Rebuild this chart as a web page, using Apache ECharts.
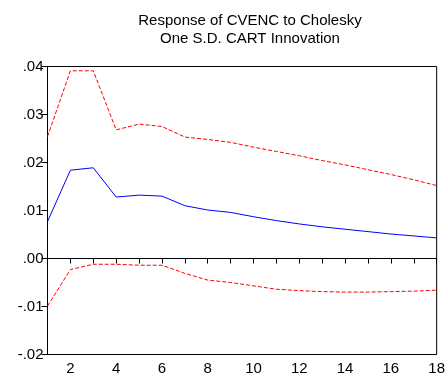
<!DOCTYPE html>
<html>
<head>
<meta charset="utf-8">
<script src="https://cdn.jsdelivr.net/npm/echarts@6/dist/echarts.min.js"></script>
<style>
html,body{margin:0;padding:0;background:#fff;}
#chart{width:448px;height:381px;}
</style>
</head>
<body>
<div id="chart"></div>
<script>
// Impulse response periods
var periods = [1,2,3,4,5,6,7,8,9,10,11,12,13,14,15,16,17,18];
// Point estimate of the response
var response = [0.0077,0.0184,0.0189,0.0128,0.0132,0.0130,0.0110,0.0101,0.0096,0.0087,0.0079,0.0072,0.0066,0.0061,0.0056,0.0051,0.0047,0.0043];
// +/- 2 S.E. bands
var upperBand = [0.0254,0.0391,0.0391,0.0268,0.0280,0.0275,0.0253,0.0248,0.0242,0.0232,0.0223,0.0214,0.0204,0.0195,0.0185,0.0175,0.0164,0.0152];
var lowerBand = [-0.0099,-0.0023,-0.0012,-0.0012,-0.0014,-0.0014,-0.0031,-0.0045,-0.0050,-0.0057,-0.0064,-0.0067,-0.0069,-0.0070,-0.0070,-0.0069,-0.0068,-0.0066];
var titleLines = ['Response of CVENC to Cholesky', 'One S.D. CART Innovation'];

function pairs(vals){ return periods.map(function(p,i){ return [p, vals[i]]; }); }
function fmtY(v){
  var s = (Math.round(v*100)/100).toFixed(2);
  return s.replace(/^(-?)0\./, '$1.');
}

var font = 'Liberation Sans, Arial, Helvetica, sans-serif';
var chart = echarts.init(document.getElementById('chart'), null, {renderer:'canvas'});
chart.setOption({
  animation:false,
  backgroundColor:'#fff',
  title:{
    text: titleLines.join('\n'),
    left: 245, textAlign:'center', top: 7,
    textStyle:{fontFamily:font, fontSize:15, fontWeight:'normal', color:'#000', lineHeight:18}
  },
  grid:{left:47.5, right:8.5, top:66.5, bottom:26.5, show:true, borderColor:'#000', borderWidth:1, backgroundColor:'transparent'},
  xAxis:{
    type:'value', min:1, max:18, interval:1,
    axisLine:{lineStyle:{color:'#000', width:1}},
    axisTick:{show:true, inside:false, length:5, lineStyle:{color:'#000'}},
    axisLabel:{fontFamily:font, fontSize:15, color:'#000', margin:7,
      formatter:function(v){ return v % 2 === 0 ? String(v) : ''; }},
    splitLine:{show:false}
  },
  yAxis:{
    type:'value', min:-0.02, max:0.04, interval:0.01,
    axisLine:{show:true, lineStyle:{color:'#000', width:1}},
    axisTick:{show:true, inside:false, length:6, lineStyle:{color:'#000'}},
    axisLabel:{fontFamily:font, fontSize:15, color:'#000', margin:4, formatter:fmtY},
    splitLine:{show:false}
  },
  series:[
    {type:'line', data:pairs(upperBand), symbol:'none', lineStyle:{color:'#ff0000', width:1, type:[4,2]},
     markLine:{silent:true, symbol:'none', label:{show:false}, lineStyle:{color:'#000', width:1, type:'solid'}, data:[{yAxis:0}]}},
    {type:'line', data:pairs(response), symbol:'none', lineStyle:{color:'#0000ff', width:1}},
    {type:'line', data:pairs(lowerBand), symbol:'none', lineStyle:{color:'#ff0000', width:1, type:[4,2]}}
  ]
});
</script>
</body>
</html>
